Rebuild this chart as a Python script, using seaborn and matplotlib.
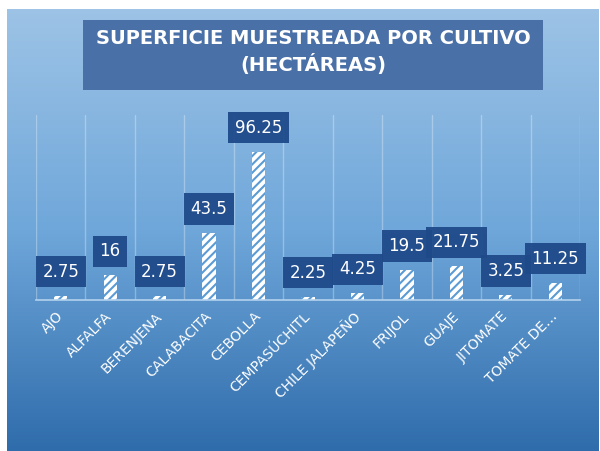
import matplotlib.pyplot as plt
import matplotlib.colors as mcolors
import matplotlib.transforms as mtransforms
from matplotlib.patches import Rectangle
import seaborn as sns
import pandas as pd
import numpy as np

# datos
cultivos = ['AJO', 'ALFALFA', 'BERENJENA', 'CALABACITA', 'CEBOLLA', 'CEMPASÚCHITL',
            'CHILE JALAPEÑO', 'FRIJOL', 'GUAJE', 'JITOMATE', 'TOMATE DE…']
hectareas = [2.75, 16, 2.75, 43.5, 96.25, 2.25, 4.25, 19.5, 21.75, 3.25, 11.25]
etiquetas = ['2.75', '16', '2.75', '43.5', '96.25', '2.25', '4.25', '19.5', '21.75', '3.25', '11.25']
titulo = 'SUPERFICIE MUESTREADA POR CULTIVO\n(HECTÁREAS)'

sns.set_style('white')
plt.rcParams['font.family'] = ['DejaVu Sans']
plt.rcParams['hatch.color'] = '#5b9bd5'
plt.rcParams['hatch.linewidth'] = 1.5

df = pd.DataFrame({'cultivo': cultivos, 'ha': hectareas})

fig = plt.figure(figsize=(6, 4.51), dpi=100)
fig.patch.set_facecolor('white')

# fondo degradado
bg = fig.add_axes([7/600, 0, 592/600, 442/451], zorder=-10)
cmap = mcolors.LinearSegmentedColormap.from_list('fondo', ['#9dc3e6', '#6fa7da', '#2f6cab'])
bg.imshow(np.linspace(0, 1, 256).reshape(-1, 1), aspect='auto', cmap=cmap,
          extent=[0, 1, 0, 1])
bg.set_axis_off()

ax = fig.add_axes([36/600, 1 - 300/451, 544/600, 185/451])
ax.patch.set_alpha(0)

sns.barplot(data=df, x='cultivo', y='ha', ax=ax, color='white', width=0.27,
            edgecolor='#5b9bd5', linewidth=0, hatch='////', saturation=1)

ax.set_ylim(0, 120)
ax.set_xlim(-0.5, len(cultivos) - 0.5)
ax.set_yticks([])
ax.set_xlabel('')
ax.set_ylabel('')

# lineas verticales entre categorias
ax.set_xticks(np.arange(len(cultivos) + 1) - 0.5, minor=True)
ax.grid(True, axis='x', which='minor', color='white', alpha=0.3, linewidth=1)
ax.grid(False, which='major')
ax.tick_params(axis='x', which='both', length=0)
ax.tick_params(axis='x', which='major', pad=6)
ax.set_xticks(range(len(cultivos)))
ax.set_xticklabels(cultivos, rotation=45, ha='right', rotation_mode='anchor',
                   fontsize=10, color='white')
desplaza = mtransforms.ScaledTranslation(-5/100, -1/100, fig.dpi_scale_trans)
for lbl in ax.get_xticklabels():
    lbl.set_transform(lbl.get_transform() + desplaza)

for s in ['top', 'right', 'left']:
    ax.spines[s].set_visible(False)
ax.spines['bottom'].set_color('#b4d2ee')
ax.spines['bottom'].set_linewidth(1.2)

# etiquetas de datos
for i, (v, t) in enumerate(zip(hectareas, etiquetas)):
    ax.annotate(t, xy=(i, v), xytext=(0, 24), textcoords='offset pixels',
                ha='center', va='center', fontsize=12, color='white',
                bbox=dict(boxstyle='square,pad=0.4', facecolor='#1f4a8a',
                          edgecolor='none', alpha=0.95),
                annotation_clip=False, zorder=5)

# titulo
fig.patches.append(Rectangle((83/600, 1 - 90/451), 460/600, 70/451,
                             transform=fig.transFigure, facecolor='#4a70a8',
                             edgecolor='none', zorder=1))
fig.text(313/600, 1 - 52/451, titulo, ha='center', va='center', fontsize=14,
         fontweight='bold', color='white', linespacing=1.35, zorder=2)

plt.savefig('out.png', dpi=100)
plt.close()
